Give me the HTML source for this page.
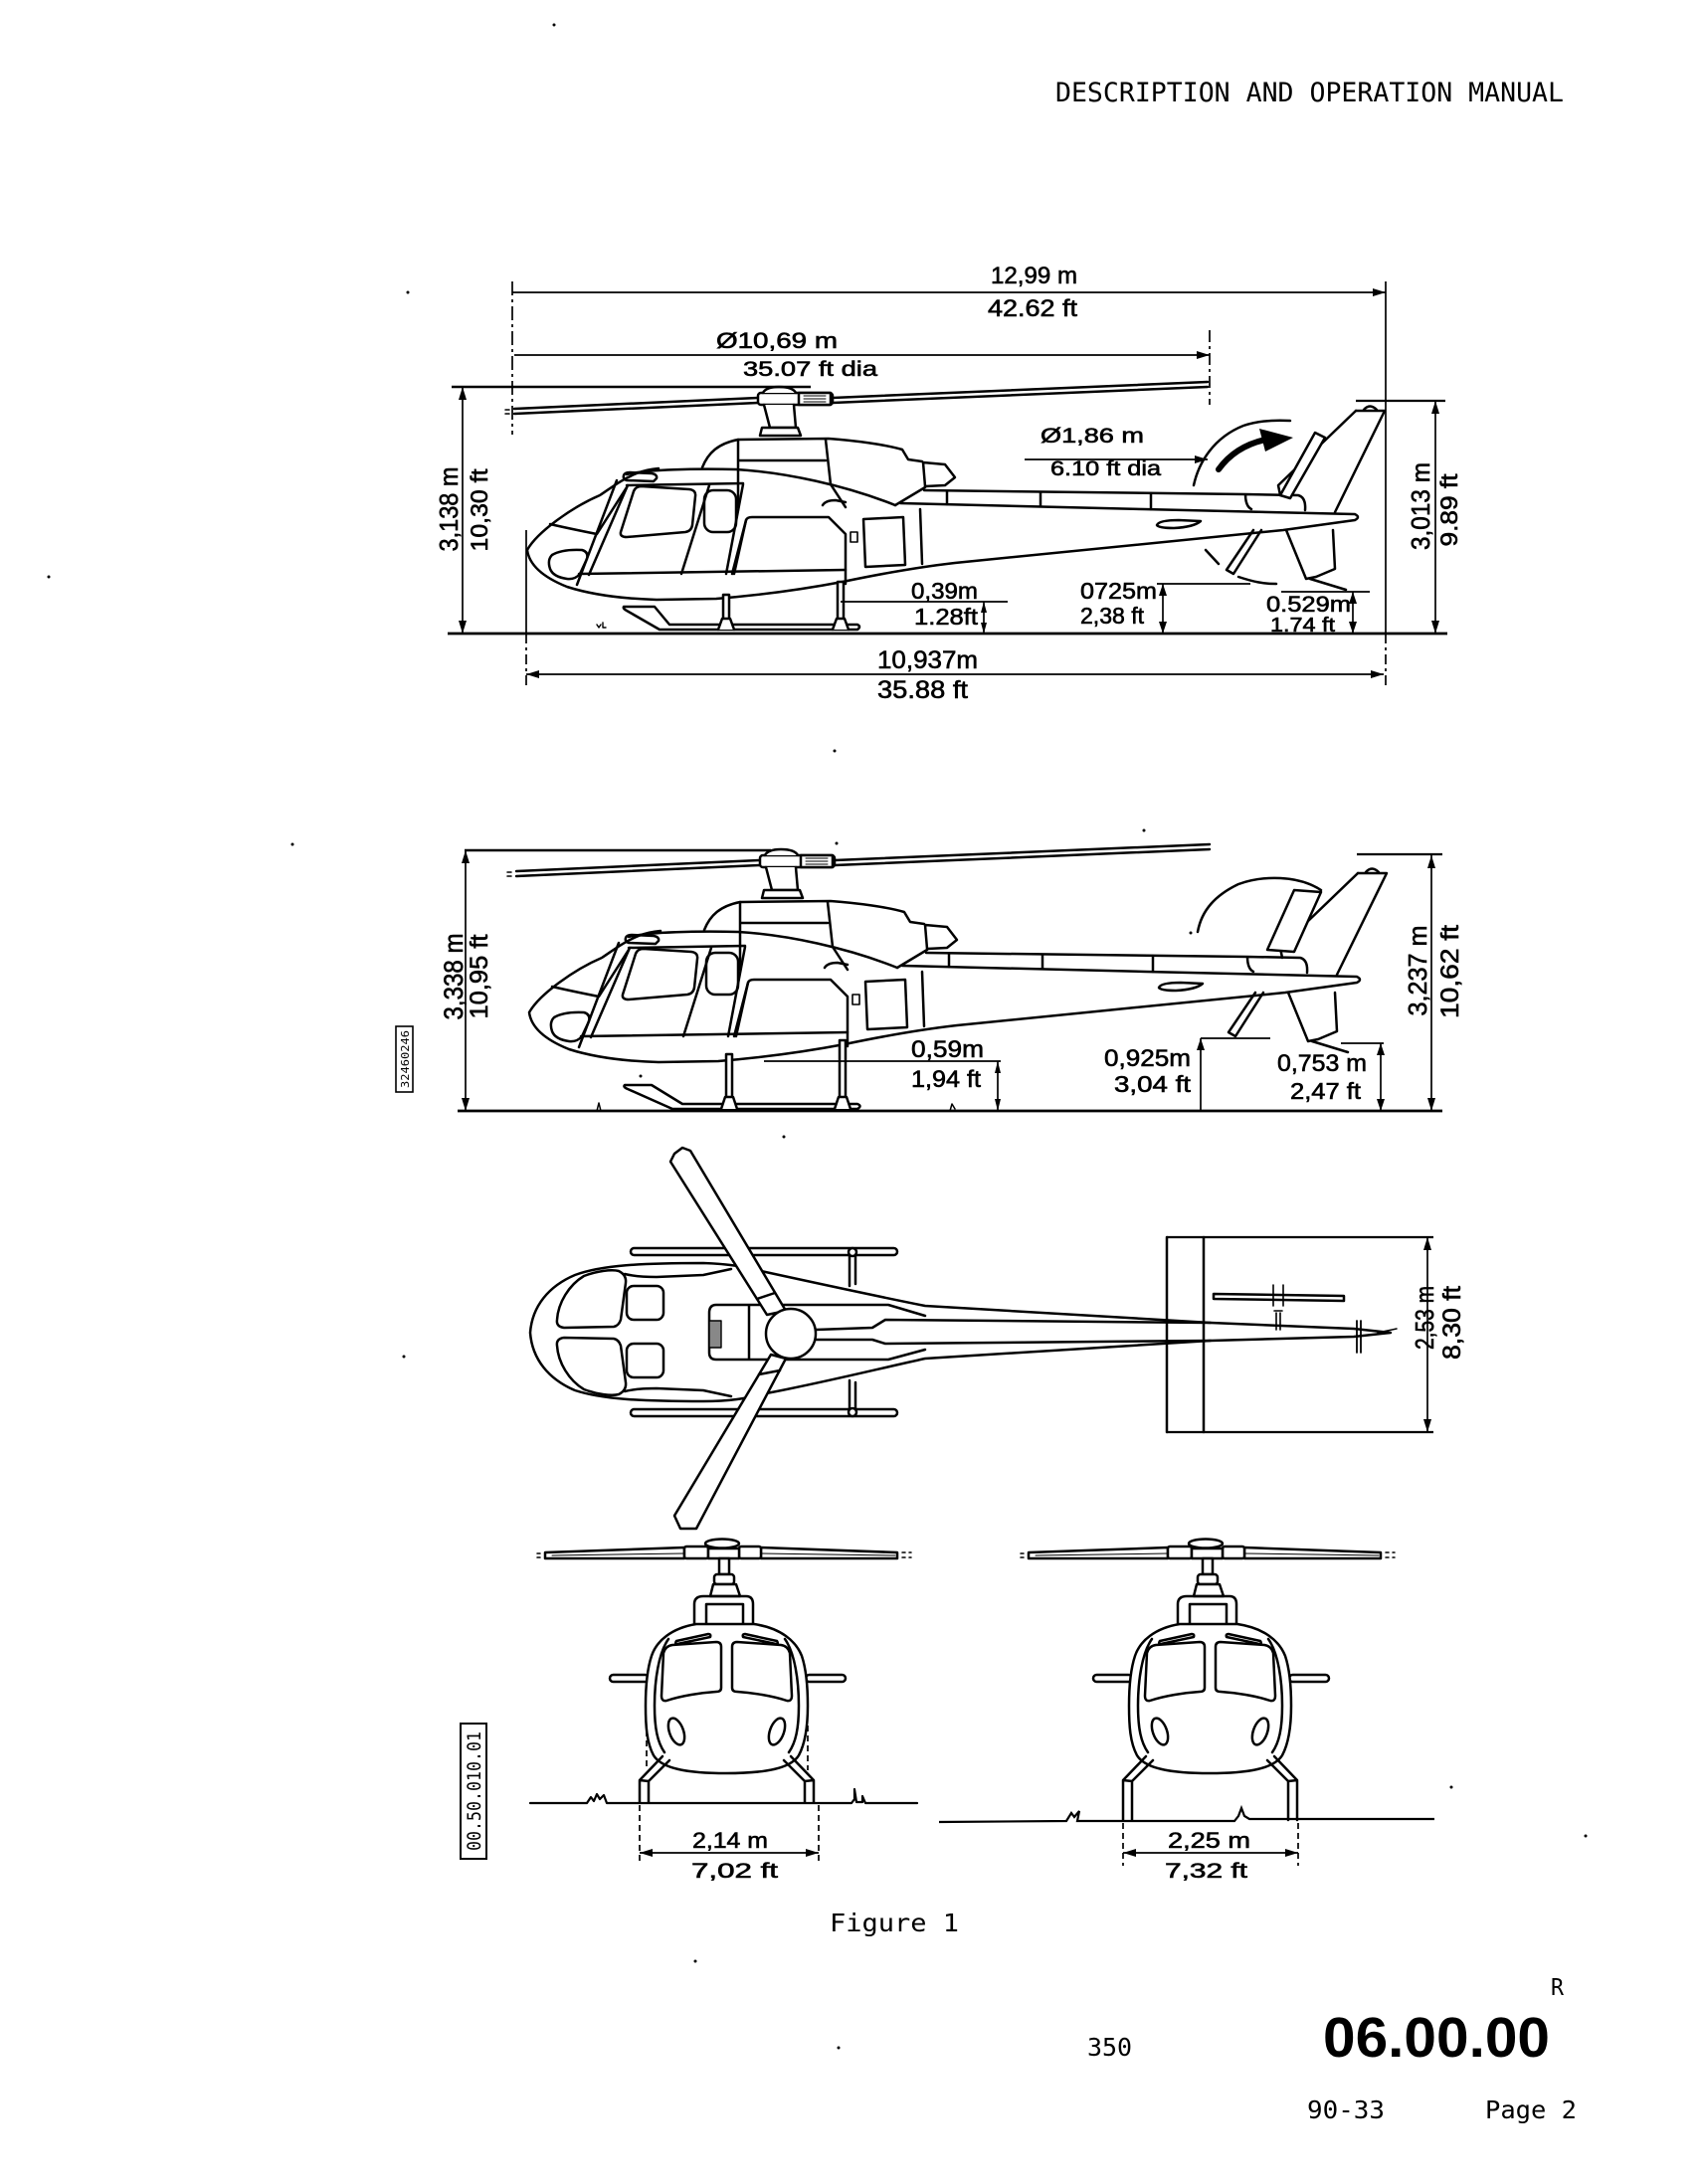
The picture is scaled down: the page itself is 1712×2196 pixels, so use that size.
<!DOCTYPE html>
<html><head><meta charset="utf-8">
<style>
html,body{margin:0;padding:0;background:#fff;}
svg{display:block;}
.t{font-family:"Liberation Sans",Arial,sans-serif;fill:#000;stroke:#000;stroke-width:0.6;}
.m{font-family:"DejaVu Sans Mono","Liberation Mono",monospace;fill:#000;stroke:none;}
.b{font-family:"Liberation Sans",Arial,sans-serif;font-weight:bold;fill:#000;stroke:none;}
</style></head><body>
<svg width="1712" height="2196" viewBox="0 0 1712 2196" xmlns="http://www.w3.org/2000/svg">
<rect width="1712" height="2196" fill="#fff"/>

<!-- HEADER -->
<text class="m" x="1061" y="102" font-size="26.6" textLength="511" lengthAdjust="spacingAndGlyphs">DESCRIPTION AND OPERATION MANUAL</text>

<!-- ================= SIDE VIEW 1 ================= -->
<g fill="none" stroke="#000" stroke-width="2.5" stroke-linejoin="round" stroke-linecap="round">
  <path d="M517,411 L762,400 M517,416 L762,405 M837,400 L1214,384 M837,405 L1214,389"/>
  <path d="M508,412 h4 M508,416 h4" stroke-width="1.5"/>
  <rect x="762" y="395" width="75" height="12" rx="3" fill="#fff"/>
  <rect x="803" y="395" width="32" height="12" fill="#fff"/>
  <path d="M808,398 h22 M808,401 h22 M808,404 h22" stroke-width="1"/>
  <path d="M767,395 Q770,389 783,389 Q797,389 800,395" fill="#fff"/>
  <path d="M768,407 L774,430 L800,430 L798,407" fill="#fff"/>
  <path d="M764,438 L766,430 L802,430 L805,438 Z" fill="#fff"/>
  <path d="M706,470 C712,455 722,446 742,442 L833,441 C860,443 890,447 907,452 L913,462 L927,464"/>
  <path d="M928,465 L950,467 L960,480 L950,488 L930,489 Z"/>
  <path d="M930,490 L900,508"/>
  <path d="M742,442 L742,510 M742,463 L830,463 M830,442 L835,487 L850,510"/>
  <path d="M630,477 C650,472 700,471 740,472 C790,475 850,488 900,508"/>
  <path d="M662,471 Q650,472 640,476 C625,482 615,490 603,498 C575,510 540,535 530,553 C532,568 545,580 570,590 C595,598 625,602 660,603 L720,602 C770,598 810,592 847,585 C890,576 925,570 960,566 L1290,533 L1362,523 Q1368,520 1362,517 L1150,512 L905,506"/>
  <path d="M929,493 L1252,497 L1305,498 Q1313,500 1312,513 M1252,497 Q1252,509 1258,512"/>
  <path d="M952,494 L952,507 M1046,495 L1046,509 M1157,496 L1157,512"/>
  <path d="M627,478 Q628,475 633,475 L655,476 Q661,477 660,481 L657,484 L630,483 Q626,482 627,478 Z"/>
  <path d="M553,527 C570,531 585,534 600,537 L630,490"/>
  <path d="M620,483 L580,588 M631,488 L592,578"/>
  <path d="M630,488 L747,486"/>
  <path d="M624,535 L637,494 Q639,489 645,489 L693,492 Q700,493 699,499 L696,528 Q695,534 689,535 L630,540 Q623,540 624,535 Z"/>
  <rect x="708" y="493" width="32" height="42" rx="9"/>
  <path d="M685,577 L713,488 M730,577 L747,487 M736,577 L750,523"/>
  <path d="M750,523 Q751,520 756,520 L833,520 L850,537 L850,587 M750,523 L738,577"/>
  <path d="M868,522 L908,520 L910,568 L870,570 Z"/>
  <rect x="855" y="535" width="7" height="10" stroke-width="1.6"/>
  <path d="M925,512 L927,567"/>
  <path d="M555,558 Q565,552 585,553 Q592,555 590,562 L583,577 Q578,583 570,582 Q556,580 553,572 Q550,563 555,558 Z"/>
  <path d="M582,577 L850,573"/>
  <path d="M827,508 Q830,503 840,503 L850,505"/>
  <path d="M1163,528 Q1165,523 1185,523 L1207,524 Q1200,530 1180,531 Q1165,531 1163,528 Z"/>
  <path d="M1363,413 L1392,413 L1342,515"/>
  <path d="M1363,413 L1285,488 L1287,498"/>
  <path d="M1371,412 Q1377,405 1384,412"/>
  <path d="M1322,435 L1332,440 L1297,501 L1287,498 Z" fill="#fff"/>
  <path d="M1293,533 L1313,582 L1323,580 L1342,572 L1340,533"/>
  <path d="M1268,533 L1240,577 L1233,573 L1260,533"/>
  <path d="M1317,582 L1353,593"/>
  <path d="M1200,488 C1205,465 1220,440 1250,428 C1265,423 1280,422 1297,423"/>
  <path d="M1225,472 C1235,458 1250,447 1272,442" stroke-width="6"/>
  <path d="M1212,553 L1225,567 M1245,580 C1260,585 1270,587 1283,587"/>
  <path d="M627,610 L658,610 L673,628 L862,628 Q866,630 862,633 L663,633 L630,614 Q626,612 627,610 Z" fill="#fff"/>
  <rect x="727" y="598" width="6" height="26" fill="#fff"/>
  <path d="M722,633 L726,622 L734,622 L738,633" fill="#fff"/>
  <rect x="842" y="585" width="6" height="39" fill="#fff"/>
  <path d="M837,633 L841,622 L849,622 L853,633" fill="#fff"/>
  <path d="M600,628 l2,3 l2,-3 M606,626 l0,5 l3,0" stroke-width="1.4"/>
</g>
<polygon points="1300,440 1266,431 1272,454" fill="#000"/>

<g fill="none" stroke="#000" stroke-width="1.7">
  <path d="M515,294 L1393,294"/>
  <path d="M515,283 L515,437" stroke-dasharray="14 4 3 4"/>
  <path d="M1393,283 L1393,637"/>
  <path d="M1393,637 L1393,692" stroke-dasharray="10 4 3 4"/>
  <path d="M517,357 L1216,357"/>
  <path d="M1216,332 L1216,407" stroke-dasharray="12 4 3 4"/>
  <path d="M454,389 L815,389" stroke-width="2.6"/>
  <path d="M465,389 L465,637"/>
  <path d="M1363,403 L1453,403" stroke-width="2.2"/>
  <path d="M1443,403 L1443,637"/>
  <path d="M529,533 L529,637"/>
  <path d="M529,637 L529,690" stroke-dasharray="10 4 3 4"/>
  <path d="M529,678 L1391,678"/>
  <path d="M845,605 L1013,605"/>
  <path d="M989,605 L989,637"/>
  <path d="M1163,587 L1257,587"/>
  <path d="M1169,587 L1169,637"/>
  <path d="M1288,595 L1377,595"/>
  <path d="M1360,595 L1360,637"/>
  <path d="M1030,462 L1214,462"/>
  <path d="M450,637 L1455,637" stroke-width="2.8"/>
</g>
<g fill="#000">
  <polygon points="1393,294 1380,290 1380,298"/>
  <polygon points="1216,357 1203,353 1203,361"/>
  <polygon points="465,389 461,402 469,402"/>
  <polygon points="465,637 461,624 469,624"/>
  <polygon points="1443,403 1439,416 1447,416"/>
  <polygon points="1443,637 1439,624 1447,624"/>
  <polygon points="529,678 542,674 542,682"/>
  <polygon points="1391,678 1378,674 1378,682"/>
  <polygon points="989,605 986,616 992,616"/>
  <polygon points="989,637 986,626 992,626"/>
  <polygon points="1169,587 1165,599 1173,599"/>
  <polygon points="1169,637 1165,625 1173,625"/>
  <polygon points="1360,595 1356,607 1364,607"/>
  <polygon points="1360,637 1356,625 1364,625"/>
  <polygon points="1214,462 1201,458 1201,466"/>
</g>
<g>
  <text class="t" x="996" y="285" font-size="24" textLength="87" lengthAdjust="spacingAndGlyphs">12,99 m</text>
  <text class="t" x="993" y="318" font-size="24" textLength="90" lengthAdjust="spacingAndGlyphs">42.62 ft</text>
  <text class="t" x="720" y="350" font-size="22" textLength="122" lengthAdjust="spacingAndGlyphs">Ø10,69 m</text>
  <text class="t" x="747" y="378" font-size="21" textLength="135" lengthAdjust="spacingAndGlyphs">35.07 ft dia</text>
  <text class="t" x="1046" y="445" font-size="21" textLength="104" lengthAdjust="spacingAndGlyphs">Ø1,86 m</text>
  <text class="t" x="1056" y="478" font-size="21" textLength="111" lengthAdjust="spacingAndGlyphs">6.10 ft dia</text>
  <text class="t" transform="translate(460,512) rotate(-90)" text-anchor="middle" font-size="26" textLength="85" lengthAdjust="spacingAndGlyphs">3,138 m</text>
  <text class="t" transform="translate(490,513) rotate(-90)" text-anchor="middle" font-size="24" textLength="83" lengthAdjust="spacingAndGlyphs">10,30 ft</text>
  <text class="t" x="916" y="602" font-size="23" textLength="67" lengthAdjust="spacingAndGlyphs">0,39m</text>
  <text class="t" x="919" y="628" font-size="23" textLength="64" lengthAdjust="spacingAndGlyphs">1.28ft</text>
  <text class="t" x="1086" y="602" font-size="23" textLength="77" lengthAdjust="spacingAndGlyphs">0725m</text>
  <text class="t" x="1086" y="627" font-size="23" textLength="64" lengthAdjust="spacingAndGlyphs">2,38 ft</text>
  <text class="t" x="1273" y="615" font-size="22" textLength="85" lengthAdjust="spacingAndGlyphs">0.529m</text>
  <text class="t" x="1277" y="635" font-size="20" textLength="65" lengthAdjust="spacingAndGlyphs">1.74 ft</text>
  <text class="t" x="882" y="672" font-size="25" textLength="101" lengthAdjust="spacingAndGlyphs">10,937m</text>
  <text class="t" x="882" y="702" font-size="25" textLength="91" lengthAdjust="spacingAndGlyphs">35.88 ft</text>
  <text class="t" transform="translate(1437,509) rotate(-90)" text-anchor="middle" font-size="26" textLength="88" lengthAdjust="spacingAndGlyphs">3,013 m</text>
  <text class="t" transform="translate(1465,513) rotate(-90)" text-anchor="middle" font-size="24" textLength="73" lengthAdjust="spacingAndGlyphs">9.89 ft</text>
</g>

<!-- ================= SIDE VIEW 2 ================= -->
<g transform="translate(2,465)" fill="none" stroke="#000" stroke-width="2.5" stroke-linejoin="round" stroke-linecap="round">
  <path d="M517,411 L762,400 M517,416 L762,405 M837,400 L1214,384 M837,405 L1214,389"/>
  <path d="M508,412 h4 M508,416 h4" stroke-width="1.5"/>
  <rect x="762" y="395" width="75" height="12" rx="3" fill="#fff"/>
  <rect x="803" y="395" width="32" height="12" fill="#fff"/>
  <path d="M808,398 h22 M808,401 h22 M808,404 h22" stroke-width="1"/>
  <path d="M767,395 Q770,389 783,389 Q797,389 800,395" fill="#fff"/>
  <path d="M768,407 L774,430 L800,430 L798,407" fill="#fff"/>
  <path d="M764,438 L766,430 L802,430 L805,438 Z" fill="#fff"/>
  <path d="M706,470 C712,455 722,446 742,442 L833,441 C860,443 890,447 907,452 L913,462 L927,464"/>
  <path d="M928,465 L950,467 L960,480 L950,488 L930,489 Z"/>
  <path d="M930,490 L900,508"/>
  <path d="M742,442 L742,510 M742,463 L830,463 M830,442 L835,487 L850,510"/>
  <path d="M630,477 C650,472 700,471 740,472 C790,475 850,488 900,508"/>
  <path d="M662,471 Q650,472 640,476 C625,482 615,490 603,498 C575,510 540,535 530,553 C532,568 545,580 570,590 C595,598 625,602 660,603 L720,602 C770,598 810,592 847,585 C890,576 925,570 960,566 L1290,533 L1362,523 Q1368,520 1362,517 L1150,512 L905,506"/>
  <path d="M929,493 L1252,497 L1305,498 Q1313,500 1312,513 M1252,497 Q1252,509 1258,512"/>
  <path d="M952,494 L952,507 M1046,495 L1046,509 M1157,496 L1157,512"/>
  <path d="M627,478 Q628,475 633,475 L655,476 Q661,477 660,481 L657,484 L630,483 Q626,482 627,478 Z"/>
  <path d="M553,527 C570,531 585,534 600,537 L630,490"/>
  <path d="M620,483 L580,588 M631,488 L592,578"/>
  <path d="M630,488 L747,486"/>
  <path d="M624,535 L637,494 Q639,489 645,489 L693,492 Q700,493 699,499 L696,528 Q695,534 689,535 L630,540 Q623,540 624,535 Z"/>
  <rect x="708" y="493" width="32" height="42" rx="9"/>
  <path d="M685,577 L713,488 M730,577 L747,487 M736,577 L750,523"/>
  <path d="M750,523 Q751,520 756,520 L833,520 L850,537 L850,587 M750,523 L738,577"/>
  <path d="M868,522 L908,520 L910,568 L870,570 Z"/>
  <rect x="855" y="535" width="7" height="10" stroke-width="1.6"/>
  <path d="M925,512 L927,567"/>
  <path d="M555,558 Q565,552 585,553 Q592,555 590,562 L583,577 Q578,583 570,582 Q556,580 553,572 Q550,563 555,558 Z"/>
  <path d="M582,577 L850,573"/>
  <path d="M827,508 Q830,503 840,503 L850,505"/>
  <path d="M1163,528 Q1165,523 1185,523 L1207,524 Q1200,530 1180,531 Q1165,531 1163,528 Z"/>
  <path d="M1363,413 L1392,413 L1342,515"/>
  <path d="M1363,413 L1285,488 L1287,498"/>
  <path d="M1371,412 Q1377,405 1384,412"/>
  <path d="M1293,533 L1313,582 L1323,580 L1342,572 L1340,533"/>
  <path d="M1268,533 L1240,577 L1233,573 L1260,533"/>
  <path d="M1317,582 L1353,593"/>
</g>
<g fill="none" stroke="#000" stroke-width="2.5" stroke-linejoin="round" stroke-linecap="round">
  <path d="M1204,937 C1208,915 1222,900 1245,889 C1270,880 1305,880 1328,895"/>
  <path d="M1301,895 L1328,897 L1301,957 L1274,955 Z" fill="#fff"/>
  <path d="M628,1091 L655,1091 L686,1110 L862,1110 Q867,1112 862,1115 L676,1115 L631,1095 Q626,1093 628,1091 Z" fill="#fff"/>
  <rect x="730" y="1060" width="6" height="45" fill="#fff"/>
  <path d="M725,1115 L729,1103 L737,1103 L741,1115" fill="#fff"/>
  <rect x="844" y="1046" width="6" height="59" fill="#fff"/>
  <path d="M839,1115 L843,1103 L851,1103 L855,1115" fill="#fff"/>
  <path d="M600,1117 l2,-8 l2,8 M955,1117 l2,-7 l3,5" stroke-width="1.5"/>
</g>
<g fill="none" stroke="#000" stroke-width="1.7">
  <path d="M467,855 L775,855" stroke-width="2.6"/>
  <path d="M468,855 L468,1117"/>
  <path d="M1364,859 L1450,859" stroke-width="2.2"/>
  <path d="M1439,860 L1439,1117"/>
  <path d="M768,1067 L1006,1067"/>
  <path d="M1003,1067 L1003,1117"/>
  <path d="M1207,1044 L1277,1044"/>
  <path d="M1207,1044 L1207,1117"/>
  <path d="M1348,1049 L1391,1049"/>
  <path d="M1388,1049 L1388,1117"/>
  <path d="M460,1117 L1450,1117" stroke-width="2.8"/>
</g>
<g fill="#000">
  <polygon points="468,855 464,868 472,868"/>
  <polygon points="468,1117 464,1104 472,1104"/>
  <polygon points="1439,860 1435,873 1443,873"/>
  <polygon points="1439,1117 1435,1104 1443,1104"/>
  <polygon points="1003,1067 1000,1079 1006,1079"/>
  <polygon points="1003,1117 1000,1105 1006,1105"/>
  <polygon points="1207,1044 1203,1056 1211,1056"/>
  <polygon points="1388,1049 1384,1061 1392,1061"/>
  <polygon points="1388,1117 1384,1105 1392,1105"/>
</g>
<g>
  <text class="t" transform="translate(465,982) rotate(-90)" text-anchor="middle" font-size="27" textLength="87" lengthAdjust="spacingAndGlyphs">3,338 m</text>
  <text class="t" transform="translate(490,982) rotate(-90)" text-anchor="middle" font-size="25" textLength="85" lengthAdjust="spacingAndGlyphs">10,95 ft</text>
  <text class="t" x="916" y="1063" font-size="24" textLength="73" lengthAdjust="spacingAndGlyphs">0,59m</text>
  <text class="t" x="916" y="1093" font-size="24" textLength="70" lengthAdjust="spacingAndGlyphs">1,94 ft</text>
  <text class="t" x="1110" y="1072" font-size="24" textLength="87" lengthAdjust="spacingAndGlyphs">0,925m</text>
  <text class="t" x="1120" y="1098" font-size="23" textLength="77" lengthAdjust="spacingAndGlyphs">3,04 ft</text>
  <text class="t" x="1284" y="1077" font-size="24" textLength="90" lengthAdjust="spacingAndGlyphs">0,753 m</text>
  <text class="t" x="1297" y="1105" font-size="23" textLength="71" lengthAdjust="spacingAndGlyphs">2,47 ft</text>
  <text class="t" transform="translate(1434,976) rotate(-90)" text-anchor="middle" font-size="26" textLength="91" lengthAdjust="spacingAndGlyphs">3,237 m</text>
  <text class="t" transform="translate(1466,977) rotate(-90)" text-anchor="middle" font-size="25" textLength="94" lengthAdjust="spacingAndGlyphs">10,62 ft</text>
</g>
<rect x="398" y="1032" width="17" height="66" fill="none" stroke="#000" stroke-width="1.6"/>
<text class="m" transform="translate(411,1065) rotate(-90)" text-anchor="middle" font-size="11" textLength="58" lengthAdjust="spacingAndGlyphs">32460246</text>

<!-- ================= TOP VIEW ================= -->
<g fill="none" stroke="#000" stroke-width="2.5" stroke-linejoin="round" stroke-linecap="round">
  <rect x="634" y="1255" width="268" height="7" rx="3.5" fill="#fff"/>
  <rect x="634" y="1417" width="268" height="7" rx="3.5" fill="#fff"/>
  <path d="M854,1262 L854,1293 M860,1262 L860,1291 M854,1388 L854,1417 M860,1390 L860,1417"/>
  <circle cx="857" cy="1259" r="4" fill="#fff"/>
  <circle cx="857" cy="1420" r="4" fill="#fff"/>
  <path d="M533,1340 C535,1313 552,1293 578,1282 C605,1272 645,1270 707,1270 C735,1271 750,1274 765,1278 C820,1290 880,1303 930,1313 L1217,1330 L1361,1336 L1398,1340 L1361,1344 L1217,1348 L930,1366 C880,1377 820,1392 765,1402 C750,1406 735,1409 707,1409 C645,1409 605,1407 578,1398 C552,1387 535,1367 533,1340 Z" fill="#fff"/>
  <path d="M628,1281 Q640,1284 660,1284 L707,1282 L735,1276 M628,1399 Q640,1396 660,1396 L707,1398 L735,1404"/>
  <path d="M560,1327 C561,1310 572,1292 587,1283 C600,1278 615,1276 622,1278 Q630,1282 629,1290 L624,1327 Q622,1333 617,1334 L567,1335 Q559,1334 560,1327 Z"/>
  <path d="M560,1353 C561,1370 572,1388 587,1397 C600,1402 615,1404 622,1402 Q630,1398 629,1390 L624,1353 Q622,1347 617,1346 L567,1345 Q559,1346 560,1353 Z"/>
  <rect x="630" y="1293" width="37" height="34" rx="7"/>
  <rect x="630" y="1351" width="37" height="34" rx="7"/>
  <path d="M720,1312 L893,1312 L930,1323 M720,1367 L893,1367 L930,1357 M720,1312 Q713,1312 713,1320 L713,1360 Q713,1367 720,1367 M753,1312 L753,1367"/>
  <rect x="713" y="1328" width="12" height="27" fill="#888" stroke-width="1.4"/>
  <path d="M820,1337 L877,1335 L890,1327 L1217,1330 M820,1347 L877,1347 L890,1351 L1217,1348"/>
  <path d="M771,1322 L674,1168 L678,1160 L686,1154 L694,1157 L790,1318 Z" fill="#fff"/>
  <path d="M761,1306 L779,1300"/>
  <path d="M775,1362 L678,1524 L684,1537 L700,1537 L790,1366 Z" fill="#fff"/>
  <path d="M763,1382 L784,1378"/>
  <circle cx="795" cy="1341" r="25" fill="#fff"/>
  <path d="M1173,1244 L1173,1440 M1210,1244 L1210,1440"/>
  <path d="M1220,1301 L1351,1303 L1351,1308 L1220,1306 Z" fill="#fff"/>
  <path d="M1280,1292 L1280,1313 M1290,1292 L1290,1313 M1281,1318 L1289,1318 M1283,1320 L1283,1337 M1287,1320 L1287,1337" stroke-width="1.6"/>
  <path d="M1364,1328 L1364,1360 M1368,1328 L1368,1360" stroke-width="1.8"/>
  <path d="M1385,1340 L1404,1336" stroke-width="1.5"/>
</g>
<g fill="none" stroke="#000" stroke-width="1.7">
  <path d="M1173,1244 L1441,1244" stroke-width="2.2"/>
  <path d="M1173,1440 L1441,1440" stroke-width="2.2"/>
  <path d="M1435,1244 L1435,1440"/>
</g>
<g fill="#000">
  <polygon points="1435,1244 1431,1257 1439,1257"/>
  <polygon points="1435,1440 1431,1427 1439,1427"/>
</g>
<text class="t" transform="translate(1441,1325) rotate(-90)" text-anchor="middle" font-size="26" textLength="64" lengthAdjust="spacingAndGlyphs">2,53 m</text>
<text class="t" transform="translate(1468,1330) rotate(-90)" text-anchor="middle" font-size="25" textLength="74" lengthAdjust="spacingAndGlyphs">8,30 ft</text>

<!-- ================= FRONT VIEW LEFT ================= -->
<g fill="none" stroke="#000" stroke-width="2.5" stroke-linejoin="round" stroke-linecap="round">
  <path d="M548,1561 L688,1556 L688,1567 L548,1567 Z" fill="#fff"/>
  <path d="M765,1556 L902,1561 L902,1567 L765,1567 Z" fill="#fff"/>
  <path d="M555,1564 L688,1562 M765,1562 L900,1564" stroke-width="1"/>
  <path d="M540,1562 h3 M540,1566 h3 M907,1561 h3 M907,1566 h3 M914,1561 h2 M914,1566 h2" stroke-width="1.5"/>
  <rect x="688" y="1555" width="24" height="12" rx="2" fill="#fff"/>
  <rect x="743" y="1555" width="22" height="12" rx="2" fill="#fff"/>
  <rect x="712" y="1557" width="31" height="10" fill="#fff"/>
  <ellipse cx="726" cy="1552" rx="17" ry="4.5" fill="#fff"/>
  <rect x="723" y="1567" width="10" height="16" fill="#fff"/>
  <rect x="718" y="1583" width="20" height="10" rx="3" fill="#fff"/>
  <path d="M717,1593 L740,1593 L744,1605 L714,1605 Z" fill="#fff"/>
  <path d="M698,1634 L698,1613 Q698,1605 707,1605 L750,1605 Q757,1605 757,1613 L757,1634"/>
  <path d="M710,1634 L710,1613 L747,1613 L747,1634"/>
  <rect x="613" y="1684" width="39" height="7" rx="3.5" fill="#fff"/>
  <rect x="810" y="1684" width="40" height="7" rx="3.5" fill="#fff"/>
  <path d="M700,1633 L758,1633 C785,1637 800,1650 806,1665 C811,1680 812,1700 812,1715 C812,1735 810,1752 803,1765 C795,1778 770,1783 730,1783 C690,1783 665,1778 657,1765 C650,1752 649,1735 649,1715 C649,1700 650,1680 655,1665 C660,1650 675,1637 700,1633 Z" fill="#fff"/>
  <path d="M672,1648 C662,1662 658,1690 658,1715 C658,1738 661,1752 668,1762"/>
  <path d="M789,1648 C799,1662 803,1690 803,1715 C803,1738 800,1752 793,1762"/>
  <path d="M665,1705 L667,1662 Q669,1655 676,1654 L720,1651 Q725,1651 725,1656 L725,1697 Q725,1701 720,1701 C705,1702 685,1705 670,1710 Q665,1711 665,1705 Z"/>
  <path d="M796,1705 L794,1662 Q792,1655 785,1654 L741,1651 Q736,1651 736,1656 L736,1697 Q736,1701 741,1701 C756,1702 776,1705 791,1710 Q796,1711 796,1705 Z"/>
  <path d="M680,1650 L712,1643 Q715,1643 714,1646 L681,1653 Q678,1653 680,1650 Z"/>
  <path d="M781,1650 L749,1643 Q746,1643 747,1646 L780,1653 Q783,1653 781,1650 Z"/>
  <ellipse cx="680" cy="1741" rx="7" ry="14" transform="rotate(-20 680 1741)"/>
  <ellipse cx="781" cy="1741" rx="7" ry="14" transform="rotate(20 781 1741)"/>
  <path d="M666,1766 L643,1790 L643,1812 M673,1770 L652,1791 L652,1812 M643,1790 L652,1791"/>
  <path d="M795,1766 L818,1790 L818,1812 M788,1770 L809,1791 L809,1812 M818,1790 L809,1791"/>
  <path d="M533,1813 L590,1813 l4,-6 l3,4 l3,-7 l3,5 l4,-4 l3,8 L856,1813 l3,-4 l0,-10 l2,13 l6,0 l0,-6 l3,7 L922,1813" stroke-width="2.2"/>
</g>
<!-- FRONT VIEW RIGHT -->
<g transform="translate(486,0)" fill="none" stroke="#000" stroke-width="2.5" stroke-linejoin="round" stroke-linecap="round">
  <path d="M548,1561 L688,1556 L688,1567 L548,1567 Z" fill="#fff"/>
  <path d="M765,1556 L902,1561 L902,1567 L765,1567 Z" fill="#fff"/>
  <path d="M555,1564 L688,1562 M765,1562 L900,1564" stroke-width="1"/>
  <path d="M540,1562 h3 M540,1566 h3 M907,1561 h3 M907,1566 h3 M914,1561 h2 M914,1566 h2" stroke-width="1.5"/>
  <rect x="688" y="1555" width="24" height="12" rx="2" fill="#fff"/>
  <rect x="743" y="1555" width="22" height="12" rx="2" fill="#fff"/>
  <rect x="712" y="1557" width="31" height="10" fill="#fff"/>
  <ellipse cx="726" cy="1552" rx="17" ry="4.5" fill="#fff"/>
  <rect x="723" y="1567" width="10" height="16" fill="#fff"/>
  <rect x="718" y="1583" width="20" height="10" rx="3" fill="#fff"/>
  <path d="M717,1593 L740,1593 L744,1605 L714,1605 Z" fill="#fff"/>
  <path d="M698,1634 L698,1613 Q698,1605 707,1605 L750,1605 Q757,1605 757,1613 L757,1634"/>
  <path d="M710,1634 L710,1613 L747,1613 L747,1634"/>
  <rect x="613" y="1684" width="39" height="7" rx="3.5" fill="#fff"/>
  <rect x="810" y="1684" width="40" height="7" rx="3.5" fill="#fff"/>
  <path d="M700,1633 L758,1633 C785,1637 800,1650 806,1665 C811,1680 812,1700 812,1715 C812,1735 810,1752 803,1765 C795,1778 770,1783 730,1783 C690,1783 665,1778 657,1765 C650,1752 649,1735 649,1715 C649,1700 650,1680 655,1665 C660,1650 675,1637 700,1633 Z" fill="#fff"/>
  <path d="M672,1648 C662,1662 658,1690 658,1715 C658,1738 661,1752 668,1762"/>
  <path d="M789,1648 C799,1662 803,1690 803,1715 C803,1738 800,1752 793,1762"/>
  <path d="M665,1705 L667,1662 Q669,1655 676,1654 L720,1651 Q725,1651 725,1656 L725,1697 Q725,1701 720,1701 C705,1702 685,1705 670,1710 Q665,1711 665,1705 Z"/>
  <path d="M796,1705 L794,1662 Q792,1655 785,1654 L741,1651 Q736,1651 736,1656 L736,1697 Q736,1701 741,1701 C756,1702 776,1705 791,1710 Q796,1711 796,1705 Z"/>
  <path d="M680,1650 L712,1643 Q715,1643 714,1646 L681,1653 Q678,1653 680,1650 Z"/>
  <path d="M781,1650 L749,1643 Q746,1643 747,1646 L780,1653 Q783,1653 781,1650 Z"/>
  <ellipse cx="680" cy="1741" rx="7" ry="14" transform="rotate(-20 680 1741)"/>
  <ellipse cx="781" cy="1741" rx="7" ry="14" transform="rotate(20 781 1741)"/>
  <path d="M666,1766 L643,1790 L643,1830 M673,1770 L652,1791 L652,1830 M643,1790 L652,1791"/>
  <path d="M795,1766 L818,1790 L818,1830 M788,1770 L809,1791 L809,1830 M818,1790 L809,1791"/>
</g>
<path d="M944,1832 L1072,1831 l5,-8 l3,4 l5,-6 l-2,10 L1241,1831 l4,-5 l3,-8 l3,8 l5,3 L1442,1829" fill="none" stroke="#000" stroke-width="2.2"/>

<g fill="none" stroke="#000" stroke-width="1.7">
  <path d="M643,1815 L643,1872 M823,1815 L823,1872 M1129,1833 L1129,1876 M1305,1833 L1305,1876" stroke-dasharray="6 4"/>
  <path d="M650,1740 L650,1780 M812,1735 L812,1780" stroke-dasharray="6 4"/>
  <path d="M643,1863 L823,1863 M1129,1863 L1305,1863"/>
</g>
<g fill="#000">
  <polygon points="643,1863 656,1859 656,1867"/>
  <polygon points="823,1863 810,1859 810,1867"/>
  <polygon points="1129,1863 1142,1859 1142,1867"/>
  <polygon points="1305,1863 1292,1859 1292,1867"/>
</g>
<text class="t" x="696" y="1858" font-size="22" textLength="76" lengthAdjust="spacingAndGlyphs">2,14 m</text>
<text class="t" x="695" y="1888" font-size="21" textLength="87" lengthAdjust="spacingAndGlyphs">7,02 ft</text>
<text class="t" x="1174" y="1858" font-size="22" textLength="83" lengthAdjust="spacingAndGlyphs">2,25 m</text>
<text class="t" x="1171" y="1888" font-size="21" textLength="83" lengthAdjust="spacingAndGlyphs">7,32 ft</text>

<rect x="463" y="1733" width="26" height="136" fill="none" stroke="#000" stroke-width="2"/>
<text class="m" transform="translate(483,1801) rotate(-90)" text-anchor="middle" font-size="19" textLength="120" lengthAdjust="spacingAndGlyphs">00.50.010.01</text>

<!-- FOOTER -->
<text class="m" x="834" y="1942" font-size="25" textLength="130" lengthAdjust="spacingAndGlyphs">Figure 1</text>
<text class="m" x="1559" y="2006" font-size="23" textLength="13" lengthAdjust="spacingAndGlyphs">R</text>
<text class="b" x="1330" y="2068" font-size="57" textLength="228" lengthAdjust="spacingAndGlyphs">06.00.00</text>
<text class="m" x="1093" y="2067" font-size="25" textLength="45" lengthAdjust="spacingAndGlyphs">350</text>
<text class="m" x="1314" y="2130" font-size="25" textLength="78" lengthAdjust="spacingAndGlyphs">90-33</text>
<text class="m" x="1493" y="2130" font-size="25" textLength="92" lengthAdjust="spacingAndGlyphs">Page 2</text>

<g fill="#000">
  <circle cx="557" cy="25" r="1.5"/>
  <circle cx="410" cy="294" r="1.5"/>
  <circle cx="49" cy="580" r="1.5"/>
  <circle cx="839" cy="755" r="1.5"/>
  <circle cx="294" cy="849" r="1.5"/>
  <circle cx="1150" cy="835" r="1.5"/>
  <circle cx="841" cy="848" r="1.5"/>
  <circle cx="1197" cy="938" r="1.5"/>
  <circle cx="644" cy="1082" r="1.5"/>
  <circle cx="788" cy="1143" r="1.5"/>
  <circle cx="406" cy="1364" r="1.5"/>
  <circle cx="1459" cy="1797" r="1.5"/>
  <circle cx="1594" cy="1846" r="1.5"/>
  <circle cx="699" cy="1972" r="1.5"/>
  <circle cx="843" cy="2059" r="1.5"/>
</g>
</svg>
</body></html>
